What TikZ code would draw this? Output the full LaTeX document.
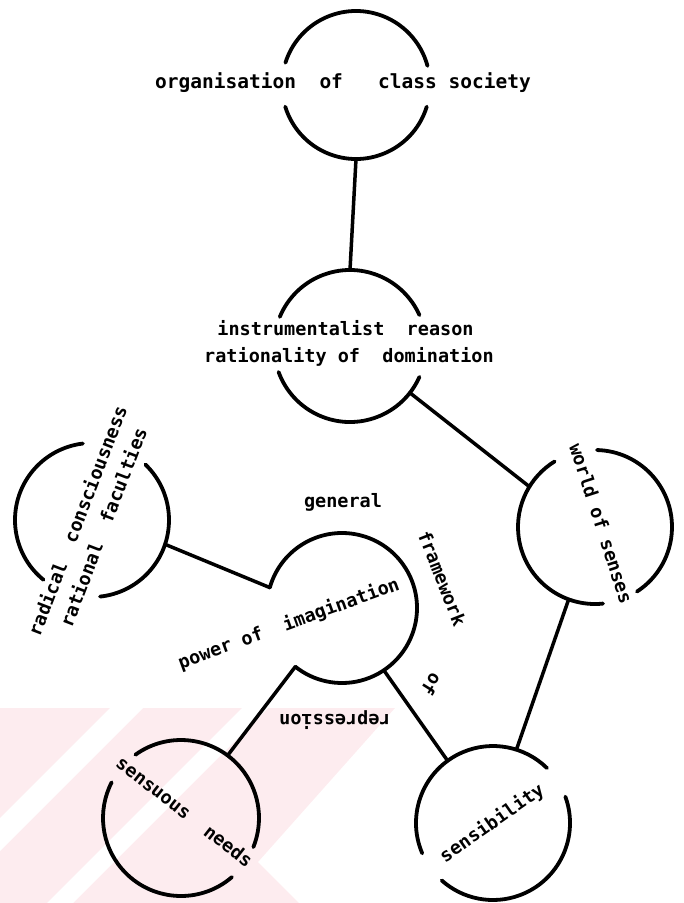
\documentclass[tikz,border=0pt]{standalone}
\usepackage{fontspec}
\newfontfamily\lblfam{DejaVu Sans Mono}
\usetikzlibrary{calc}
\definecolor{wm}{RGB}{253,236,239}
\tikzset{
  ring/.style={line width=3.8pt, line cap=round},
  link/.style={line width=3.5pt, line cap=round},
  lbl/.style={inner sep=0pt, text height=1.5ex, text depth=0.4ex,
    font=\lblfam\bfseries\fontsize{18.5}{22}\selectfont},
  bigl/.style={lbl, font=\lblfam\bfseries\fontsize{19.5}{23}\selectfont},
}
\begin{document}
\begin{tikzpicture}[x=1pt,y=-1pt]
\useasboundingbox (0,0) rectangle (684,903);
% faint watermark
\fill[wm] (0,708) -- (395,708) -- (258,862) -- (299,903) -- (0,903) -- cycle;
\fill[white] (110,708) -- (143,708) -- (0,851) -- (0,818) -- cycle;
\fill[white] (242,708) -- (268,708) -- (73,903) -- (47,903) -- cycle;
% centres
\coordinate (C1) at (356,85);
\coordinate (C2) at (350,346);
\coordinate (W) at (595,527);
\coordinate (S) at (493,823);
\coordinate (N) at (181,818);
\coordinate (R) at (92,520);
\coordinate (P) at (342,608);
% circles as arcs
\draw[ring] ([shift={(C1)}]197.5:74) arc[start angle=197.5, end angle=345, radius=74];
\draw[ring] ([shift={(C1)}]17:74) arc[start angle=17, end angle=163, radius=74];
\draw[ring] ([shift={(C2)}]202.5:76) arc[start angle=202.5, end angle=336, radius=76];
\draw[ring] ([shift={(C2)}]24:76) arc[start angle=24, end angle=160, radius=76];
\draw[ring] ([shift={(W)}]84:77) arc[start angle=84, end angle=238.4, radius=77];
\draw[ring] ([shift={(W)}]271.5:77) arc[start angle=271.5, end angle=417, radius=77];
\draw[ring] ([shift={(S)}]156.8:77) arc[start angle=156.8, end angle=314.5, radius=77];
\draw[ring] ([shift={(S)}]340:77) arc[start angle=340, end angle=491.8, radius=77];
\draw[ring] ([shift={(N)}]234.2:78) arc[start angle=234.2, end angle=381.9, radius=78];
\draw[ring] ([shift={(N)}]49.2:78) arc[start angle=49.2, end angle=207.2, radius=78];
\draw[ring] ([shift={(R)}]129:77) arc[start angle=129, end angle=263.2, radius=77];
\draw[ring] ([shift={(R)}]-46.1:77) arc[start angle=-46.1, end angle=84, radius=77];
\draw[ring] ([shift={(P)}]195.8:75) arc[start angle=195.8, end angle=488.5, radius=75];
% connector end points
\coordinate (c1s) at ([shift={(C1)}]90:74);
\coordinate (c2n) at ([shift={(C2)}]270:76);
\coordinate (c2e) at ([shift={(C2)}]38:76);
\coordinate (wnw) at ([shift={(W)}]211.6:77);
\coordinate (wsw) at ([shift={(W)}]110:77);
\coordinate (sn) at ([shift={(S)}]287.7:77);
\coordinate (snw) at ([shift={(S)}]233.9:77);
\coordinate (re) at ([shift={(R)}]18.4:77);
\coordinate (pw) at ([shift={(P)}]195.8:75);
\coordinate (psw) at ([shift={(P)}]128.5:75);
\coordinate (pse) at ([shift={(P)}]56.1:75);
\coordinate (nne) at ([shift={(N)}]306.7:78);
% connectors
\draw[link] (c1s) -- (c2n);
\draw[link] (c2e) -- (wnw);
\draw[link] (wsw) -- (sn);
\draw[link] (re) -- (pw);
\draw[link] (psw) -- (nne);
\draw[link] (pse) -- (snw);
% labels
\node[bigl] (t1) at (343,86) {organisation~~of~~~class society};
\node[lbl] (t2a) at (345.5,333) {instrumentalist~~reason};
\node[lbl] (t2b) at (349,360) {rationality of~~domination};
\node[lbl, rotate=-72] (tw) at (597,525) {world of senses};
\node[lbl, rotate=69] (tra) at (81.5,522.5) {radical~~consciousness};
\node[lbl, rotate=69] (trb) at (107.5,529) {rational~~faculties};
\node[lbl, rotate=20] (tp) at (290,627) {power of~~imagination};
\node[lbl] (tg) at (343,505) {general};
\node[lbl, rotate=-68.5] (tf) at (438,580) {framework};
\node[lbl, rotate=-122] (to) at (428,682) {of};
\node[lbl, rotate=180] (trp) at (335,717) {repression};
\node[lbl, rotate=-38] (tn) at (182,815) {sensuous~~needs};
\node[lbl, rotate=35] (ts) at (494,826) {sensibility};
\end{tikzpicture}
\end{document}
